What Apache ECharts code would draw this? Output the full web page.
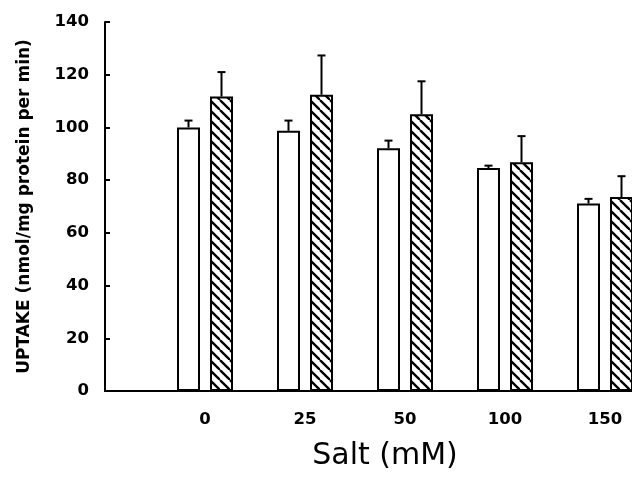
<!DOCTYPE html>
<html>
<head>
<meta charset="utf-8">
<script src="https://cdn.jsdelivr.net/npm/echarts@6/dist/echarts.min.js"></script>
<style>html,body{margin:0;padding:0;background:#fff;}#c{width:632px;height:482px;}</style>
</head>
<body>
<div id="c"></div>
<script>
// Data
const categories = ['', '0', '25', '50', '100', '150', ''];
const openValues = [null, 100, 98.7, 92.1, 84.6, 71.1, null];
const openErrors = [null, 2.6, 3.9, 2.9, 0.9, 1.8, null];
const hatchedValues = [null, 111.7, 112.4, 105.0, 86.8, 73.6, null];
const hatchedErrors = [null, 9.3, 14.9, 12.5, 9.9, 7.9, null];
const yTicks = { min: 0, max: 140, interval: 20 };

const BAR_W = 23, BAR_GAP = 10;
const FONT = '"DejaVu Sans", sans-serif';

function hatchPattern() {
  const s = 10;
  const cv = document.createElement('canvas');
  cv.width = s; cv.height = s;
  const ctx = cv.getContext('2d');
  ctx.fillStyle = '#fff';
  ctx.fillRect(0, 0, s, s);
  ctx.strokeStyle = '#000';
  ctx.lineWidth = 2.3;
  for (let k = -1; k <= 1; k++) {
    ctx.beginPath();
    ctx.moveTo(k * s, 0);
    ctx.lineTo(k * s + s, s);
    ctx.stroke();
  }
  return { image: cv, repeat: 'repeat' };
}

function errData(vals, errs) {
  const out = [];
  vals.forEach((v, i) => { if (v != null) out.push([i, v, errs[i]]); });
  return out;
}

function errRender(offset) {
  return function (params, api) {
    const idx = api.value(0), v = api.value(1), e = api.value(2);
    const p0 = api.coord([idx, v]);
    const p1 = api.coord([idx, v + e]);
    const x = p0[0] + offset;
    const cap = 4;
    const style = { stroke: '#000', lineWidth: 2, fill: null };
    return {
      type: 'group',
      children: [
        { type: 'line', shape: { x1: x, y1: p0[1], x2: x, y2: p1[1] }, style },
        { type: 'line', shape: { x1: x - cap, y1: p1[1], x2: x + cap, y2: p1[1] }, style }
      ]
    };
  };
}

const chart = echarts.init(document.getElementById('c'), null, { renderer: 'canvas' });
const off = (BAR_W + BAR_GAP) / 2;
chart.setOption({
  animation: false,
  backgroundColor: '#fff',
  grid: { left: 105, top: 22, bottom: 91, right: -73, containLabel: false, outerBoundsMode: 'none' },
  xAxis: {
    type: 'category',
    data: categories,
    boundaryGap: false,
    axisLine: { lineStyle: { color: '#000', width: 2 } },
    axisTick: { show: false },
    axisLabel: { color: '#000', fontFamily: FONT, fontWeight: 'bold', fontSize: 16.5, margin: 20 },
    name: 'Salt (mM)',
    nameLocation: 'middle',
    nameGap: 50,
    nameTextStyle: { color: '#000', fontFamily: FONT, fontSize: 30, fontWeight: 'normal', padding: [0, 40, 0, 0] },
    splitLine: { show: false }
  },
  yAxis: {
    type: 'value',
    min: yTicks.min, max: yTicks.max, interval: yTicks.interval,
    axisLine: { show: true, lineStyle: { color: '#000', width: 2 } },
    axisTick: { show: true, inside: true, length: 5, lineStyle: { color: '#000', width: 2 } },
    axisLabel: { color: '#000', fontFamily: FONT, fontWeight: 'bold', fontSize: 16.5, margin: 16 },
    splitLine: { show: false },
    name: 'UPTAKE (nmol/mg protein per min)',
    nameLocation: 'middle',
    nameGap: 72,
    nameTextStyle: { color: '#000', fontFamily: FONT, fontSize: 17, fontWeight: 'bold' }
  },
  series: [
    {
      type: 'bar', name: 'open', data: openValues,
      barWidth: BAR_W, barGap: (BAR_GAP / BAR_W * 100) + '%',
      itemStyle: { color: '#fff', borderColor: '#000', borderWidth: 2 },
      z: 2
    },
    {
      type: 'bar', name: 'hatched', data: hatchedValues,
      barWidth: BAR_W,
      itemStyle: { color: hatchPattern(), borderColor: '#000', borderWidth: 2 },
      z: 2
    },
    {
      type: 'custom', name: 'open err', data: errData(openValues, openErrors),
      encode: { x: 0, y: 1 }, renderItem: errRender(-off), z: 3
    },
    {
      type: 'custom', name: 'hatched err', data: errData(hatchedValues, hatchedErrors),
      encode: { x: 0, y: 1 }, renderItem: errRender(off), z: 3
    }
  ]
});
</script>
</body>
</html>
